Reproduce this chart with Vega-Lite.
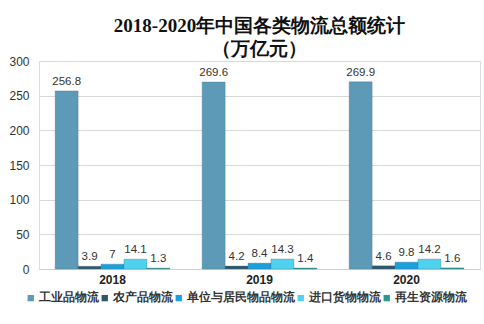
{
  "$schema": "https://vega.github.io/schema/vega-lite/v6.json",
  "width": 484,
  "height": 324,
  "autosize": {"type": "fit", "contains": "padding"},
  "padding": {"left": 8, "right": 4, "top": 17, "bottom": 20},
  "background": "white",
  "title": {
    "text": ["2018-2020年中国各类物流总额统计", "（万亿元）"],
    "font": "Liberation Serif",
    "fontSize": 19,
    "fontWeight": "bold",
    "color": "#111111",
    "anchor": "middle",
    "lineHeight": 23,
    "offset": -4
  },
  "data": {
    "values": [
      {"year": "2018", "type": "工业品物流", "value": 256.8},
      {"year": "2018", "type": "农产品物流", "value": 3.9},
      {"year": "2018", "type": "单位与居民物品物流", "value": 7},
      {"year": "2018", "type": "进口货物物流", "value": 14.1},
      {"year": "2018", "type": "再生资源物流", "value": 1.3},
      {"year": "2019", "type": "工业品物流", "value": 269.6},
      {"year": "2019", "type": "农产品物流", "value": 4.2},
      {"year": "2019", "type": "单位与居民物品物流", "value": 8.4},
      {"year": "2019", "type": "进口货物物流", "value": 14.3},
      {"year": "2019", "type": "再生资源物流", "value": 1.4},
      {"year": "2020", "type": "工业品物流", "value": 269.9},
      {"year": "2020", "type": "农产品物流", "value": 4.6},
      {"year": "2020", "type": "单位与居民物品物流", "value": 9.8},
      {"year": "2020", "type": "进口货物物流", "value": 14.2},
      {"year": "2020", "type": "再生资源物流", "value": 1.6}
    ]
  },
  "encoding": {
    "x": {
      "field": "year", "type": "nominal", "title": null,
      "scale": {"paddingInner": 0.22, "paddingOuter": 0.11},
      "axis": {"labelAngle": 0, "labelFontWeight": "bold", "labelFontSize": 12, "labelColor": "#222", "ticks": false, "domainColor": "#d0d0d0", "labelPadding": 5, "labelFont": "Liberation Sans"}
    },
    "xOffset": {"field": "type", "type": "nominal", "sort": ["工业品物流", "农产品物流", "单位与居民物品物流", "进口货物物流", "再生资源物流"]},
    "y": {
      "field": "value", "type": "quantitative", "title": null,
      "scale": {"domain": [0, 300]},
      "axis": {"values": [0, 50, 100, 150, 200, 250, 300], "domain": false, "ticks": false, "gridColor": "#d9d9d9", "labelFontSize": 12, "labelColor": "#333", "labelPadding": 10, "labelFont": "Liberation Sans"}
    }
  },
  "layer": [
    {
      "mark": {"type": "bar", "stroke": "#3f6f85", "strokeWidth": 0.6, "strokeOpacity": 0.6},
      "encoding": {
        "color": {
          "field": "type", "type": "nominal",
          "sort": ["工业品物流", "农产品物流", "单位与居民物品物流", "进口货物物流", "再生资源物流"],
          "scale": {
            "domain": ["工业品物流", "农产品物流", "单位与居民物品物流", "进口货物物流", "再生资源物流"],
            "range": ["#5d9ab8", "#2f5568", "#1aa0dc", "#4fd2ef", "#2a9a8a"]
          },
          "legend": {
            "orient": "bottom", "title": null, "direction": "horizontal", "columns": 5,
            "symbolType": "square", "symbolSize": 40, "symbolStrokeWidth": 0,
            "labelFontSize": 11.5, "labelFontWeight": "bold", "labelColor": "#333",
            "columnPadding": 2, "symbolOffset": -14, "labelOffset": 2, "offset": 7
          }
        }
      }
    },
    {
      "mark": {"type": "text", "dy": -9, "fontSize": 11.5, "color": "#333", "font": "Liberation Sans"},
      "encoding": {"text": {"field": "value", "type": "quantitative"}}
    }
  ]
}
